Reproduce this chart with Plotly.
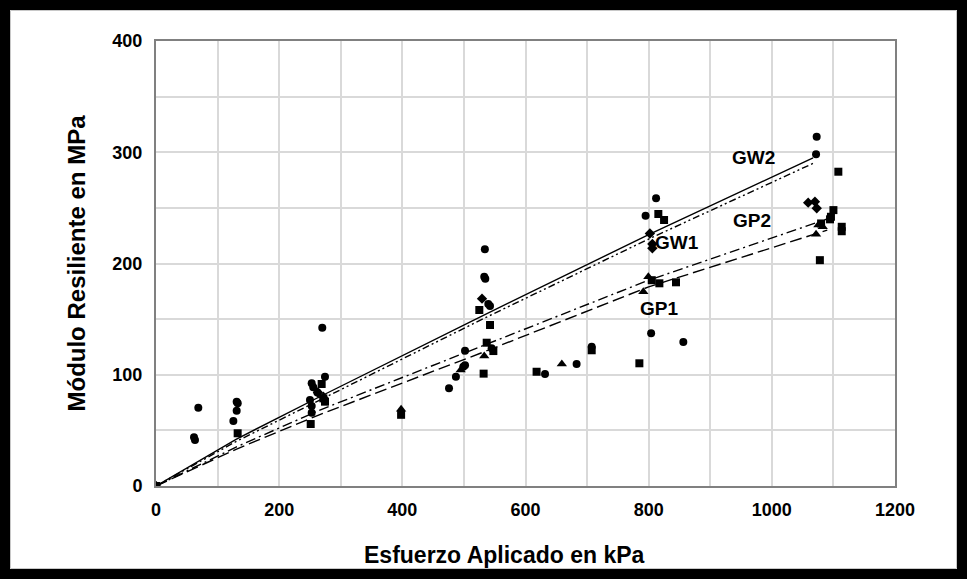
import plotly.graph_objects as go

# Measured points: applied stress (kPa) vs resilient modulus (MPa)
circle_x = [0, 68.7, 61.7, 63.3, 131, 132.7, 131, 125.6,
            270, 274.4, 252.8, 255.4, 250, 252.8, 252.8, 262,
            534, 533, 534.7, 539.6, 542.4, 545, 501.8, 501.8, 499, 487, 475.8,
            631.7, 683, 707.5,
            812, 795, 804, 856.3,
            1072.8, 1071.8]
circle_y = [0, 70.4, 43.8, 41.3, 75.8, 74.3, 67.7, 58.4,
            142.3, 98.3, 92.3, 88.7, 77.3, 71.9, 65.9, 84,
            212.8, 188, 186.4, 163.6, 161.8, 123.8, 121.6, 108.5, 107.2, 98.3, 87.8,
            100.7, 109.7, 125.2,
            258.6, 243, 137.2, 129.4,
            314, 298.2]

square_x = [0, 132.6, 269, 271.7, 274.4, 251.2, 398,
            525, 542.4, 537, 547.8, 532, 618, 707.5,
            815.7, 825, 805, 817.4, 844.4, 784.9,
            1108, 1100, 1096, 1094.5, 1113.5, 1113.5, 1078, 1080]
square_y = [0, 47.4, 91.7, 78.8, 75.8, 55.7, 64,
            158.2, 144.7, 128.8, 121.3, 101, 102.7, 122,
            244.5, 239.1, 185, 182.2, 183.1, 110.3,
            282.5, 248, 242, 239.7, 233, 229, 203, 236]

triangle_x = [0, 272, 398, 533, 494.8, 659, 799.5, 791.3, 1075.6, 1082.6, 1071.8]
triangle_y = [0, 81, 69, 116.9, 104.3, 109.7, 188, 174.7, 234.6, 233, 226.2]

diamond_x = [0, 263, 529.4, 802, 806, 806, 1059, 1070, 1072.9]
diamond_y = [0, 84, 168.4, 227, 217.5, 213.7, 254.7, 255.6, 249.6]

# Model curves for each material
gw_x = [0, 130, 265, 530, 800, 1067]
gw2_y = [0, 42, 80, 153, 226, 295]
gw1_y = [0, 40, 77, 150, 222, 290]
gp_x = [0, 130, 265, 530, 800, 1090]
gp2_y = [0, 35, 68, 126, 185, 240]
gp1_y = [0, 33, 64, 120, 179, 230]

curve_labels = ["GW2", "GW1", "GP2", "GP1"]
label_x = [970, 846, 967, 816]
label_y = [295, 219, 239, 160]

x_ticks = [0, 200, 400, 600, 800, 1000, 1200]
y_ticks = [0, 100, 200, 300, 400]

x_title = "Esfuerzo Aplicado en kPa"
y_title = "Módulo Resiliente en MPa"

FONT = "Arial, Liberation Sans, sans-serif"
W, H = 967, 579
ML, MR, MT, MB = 156, 72, 41, 93
PW, PH = W - ML - MR, H - MT - MB

fig = go.Figure()

line_styles = [
    (gw_x, gw2_y, "solid"),
    (gw_x, gw1_y, "7px,3px,2px,3px,2px,3px"),
    (gp_x, gp2_y, "10px,4px,2px,4px"),
    (gp_x, gp1_y, "12px,5px"),
]
for xs, ys, dash in line_styles:
    fig.add_trace(go.Scatter(x=xs, y=ys, mode="lines",
                             line=dict(color="black", width=1.4, dash=dash),
                             hoverinfo="skip"))

marker_sets = [
    (circle_x, circle_y, "circle", 8),
    (square_x, square_y, "square", 8),
    (triangle_x, triangle_y, "triangle-up", 9),
    (diamond_x, diamond_y, "diamond", 8),
]
for xs, ys, sym, size in marker_sets:
    fig.add_trace(go.Scatter(x=xs, y=ys, mode="markers",
                             marker=dict(symbol=sym, size=size, color="black",
                                         line=dict(width=0))))

for t, lx, ly in zip(curve_labels, label_x, label_y):
    fig.add_annotation(x=lx, y=ly, text="<b>%s</b>" % t, showarrow=False,
                       font=dict(family=FONT, size=19, color="black"))

# x-axis title, placed slightly left of the plot centre
fig.add_annotation(xref="paper", yref="paper",
                   x=(504 - ML) / PW, y=-(555 - MT - PH) / PH,
                   text="<b>%s</b>" % x_title, showarrow=False,
                   xanchor="center", yanchor="middle",
                   font=dict(family=FONT, size=23, color="black"))

# Thick black frame around the whole figure
fx0 = (5 - ML) / PW
fx1 = (W - 5 - ML) / PW
fy0 = -(H - 5 - MT - PH) / PH
fy1 = (PH + MT - 5) / PH
fig.add_shape(type="rect", xref="paper", yref="paper",
              x0=fx0, x1=fx1, y0=fy0, y1=fy1,
              line=dict(color="black", width=10), layer="above")
ix0 = (10.5 - ML) / PW
ix1 = (W - 10.5 - ML) / PW
iy0 = -(H - 10.5 - MT - PH) / PH
iy1 = (PH + MT - 10.5) / PH
fig.add_shape(type="rect", xref="paper", yref="paper",
              x0=ix0, x1=ix1, y0=iy0, y1=iy1,
              line=dict(color="#c8c8c8", width=1), layer="above")

fig.update_layout(
    width=W, height=H,
    margin=dict(l=ML, r=MR, t=MT, b=MB),
    paper_bgcolor="white", plot_bgcolor="white",
    showlegend=False,
    font=dict(family=FONT, color="black"),
    xaxis=dict(
        range=[0, 1200], tickvals=x_ticks,
        ticktext=["<b>%d</b>" % v for v in x_ticks],
        tickfont=dict(size=18), ticks="", ticklabelstandoff=6,
        showgrid=True, gridcolor="#d9d9d9", gridwidth=2,
        minor=dict(dtick=100, showgrid=True, gridcolor="#d9d9d9", gridwidth=2),
        showline=True, linecolor="#808080", linewidth=2, mirror=True,
        zeroline=False,
    ),
    yaxis=dict(
        range=[0, 400], tickvals=y_ticks,
        ticktext=["<b>%d</b>" % v for v in y_ticks],
        tickfont=dict(size=18), ticks="", ticklabelstandoff=8,
        showgrid=True, gridcolor="#d9d9d9", gridwidth=2,
        minor=dict(dtick=50, showgrid=True, gridcolor="#d9d9d9", gridwidth=2),
        showline=True, linecolor="#808080", linewidth=2, mirror=True,
        zeroline=False,
        title=dict(text="<b>%s</b>" % y_title,
                   font=dict(size=24), standoff=20),
    ),
)

fig.write_html("out.html")
